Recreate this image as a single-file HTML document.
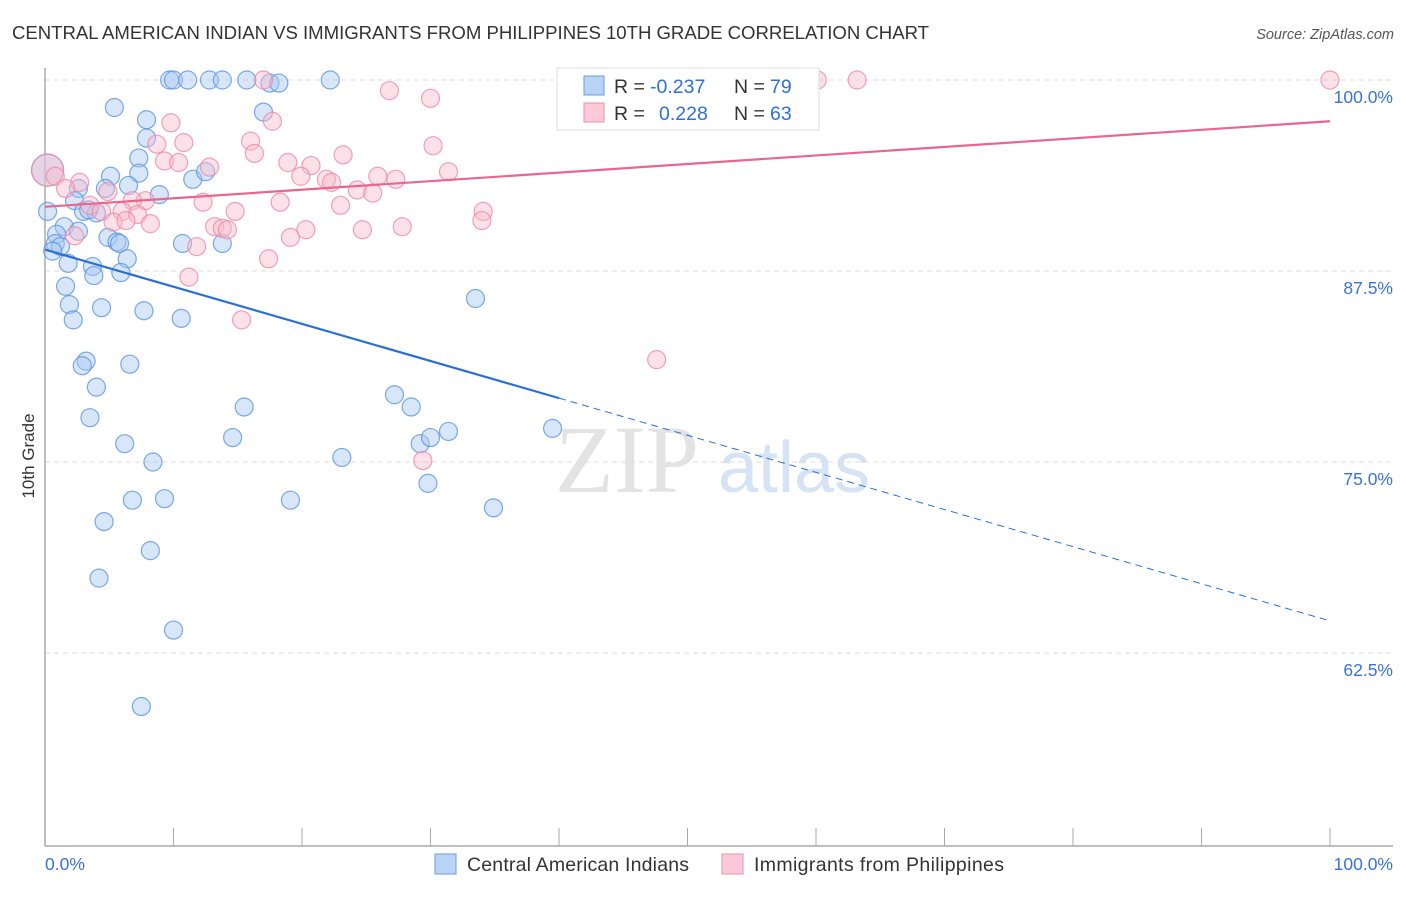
<!DOCTYPE html>
<html><head><meta charset="utf-8"><style>
body{margin:0;background:#fff;width:1406px;height:892px;overflow:hidden;font-family:"Liberation Sans",sans-serif}
</style></head><body>
<svg id="c" width="1406" height="892" xmlns="http://www.w3.org/2000/svg">
<text x="12" y="39" font-size="18.6" fill="#333" textLength="917">CENTRAL AMERICAN INDIAN VS IMMIGRANTS FROM PHILIPPINES 10TH GRADE CORRELATION CHART</text>
<text x="1394" y="39" font-size="14.5" fill="#555" font-style="italic" text-anchor="end">Source: ZipAtlas.com</text>
<text x="34" y="456" font-size="17" fill="#333" transform="rotate(-90 34 456)" text-anchor="middle">10th Grade</text>
<g><text x="555" y="492" font-size="96" fill="#d8d8d8" font-family="Liberation Serif,serif" opacity="0.7">ZIP</text><text x="718" y="492" font-size="72" fill="#c5d8f2" opacity="0.7">atlas</text></g>
<g id="grid"></g><g id="axes"></g><g id="pts"></g><g id="trend"></g>
<g>
<rect x="557" y="68" width="262" height="62" fill="#fff" stroke="#ddd"/>
<rect x="584" y="76" width="20" height="19" fill="#b9d3f5" stroke="#6a9de0"/>
<rect x="584" y="103" width="20" height="19" fill="#fbc9d7" stroke="#ee8fac"/>
<text x="614" y="93" font-size="19.5" fill="#333">R =</text>
<text x="650" y="93" font-size="19.5" fill="#2f6fd6">-0.237</text>
<text x="734" y="93" font-size="19.5" fill="#333">N =</text>
<text x="770" y="93" font-size="19.5" fill="#2f6fd6">79</text>
<text x="614" y="120" font-size="19.5" fill="#333">R =</text>
<text x="659" y="120" font-size="19.5" fill="#2f6fd6">0.228</text>
<text x="734" y="120" font-size="19.5" fill="#333">N =</text>
<text x="770" y="120" font-size="19.5" fill="#2f6fd6">63</text>
</g>
<g>
<rect x="435" y="854" width="21" height="20" fill="#b9d3f5" stroke="#6a9de0"/>
<text x="467" y="871" font-size="19.5" fill="#333" textLength="222">Central American Indians</text>
<rect x="722" y="854" width="21" height="20" fill="#fbc9d7" stroke="#ee8fac"/>
<text x="754" y="871" font-size="19.5" fill="#333" textLength="250">Immigrants from Philippines</text>
</g>
<text x="45" y="870" font-size="17.5" fill="#3a72d4">0.0%</text>
<text x="1393" y="870" font-size="17.5" fill="#3a72d4" text-anchor="end">100.0%</text>
</svg>
<script>
const yTicks=[100,87.5,75,62.5];
const yTickLabels=["100.0%","87.5%","75.0%","62.5%"];
const blueX=[9.7,10.0,11.1,12.8,13.8,15.7,17.5,18.2,22.2,5.4,17.0,7.9,7.9,7.3,5.1,7.3,6.5,2.6,4.7,8.9,11.5,12.5,0.2,0.2,2.3,3.0,4.0,3.4,1.5,2.6,0.9,0.8,1.2,0.6,4.9,5.6,5.8,10.7,13.8,1.8,3.7,6.4,3.8,5.9,1.6,1.9,4.4,7.7,2.2,10.6,33.5,3.2,2.9,6.6,4.0,15.5,27.2,28.5,3.5,14.6,6.2,29.2,30.0,31.4,39.5,8.4,23.1,29.8,6.8,9.3,19.1,34.9,4.6,8.2,4.2,10.0,7.5];
const blueY=[100,100,100,100,100,100,99.8,99.8,100,98.2,97.9,97.4,96.2,94.9,93.7,93.9,93.1,92.9,92.9,92.5,93.5,94.0,94.1,91.4,92.1,91.4,91.3,91.5,90.4,90.1,89.9,89.3,89.1,88.8,89.7,89.4,89.3,89.3,89.3,88.0,87.8,88.3,87.2,87.4,86.5,85.3,85.1,84.9,84.3,84.4,85.7,81.6,81.3,81.4,79.9,78.6,79.4,78.6,77.9,76.6,76.2,76.2,76.6,77.0,77.2,75.0,75.3,73.6,72.5,72.6,72.5,72.0,71.1,69.2,67.4,64.0,59.0];
const pinkX=[17.0,60.1,63.2,100,26.8,30.0,9.8,17.7,10.8,8.7,16.0,30.2,16.3,23.2,9.3,10.4,12.8,18.9,20.7,19.9,21.9,22.3,25.9,27.3,31.4,24.3,25.5,0.2,0.8,2.7,1.6,4.9,7.8,12.3,18.3,23.0,6.8,3.5,4.4,6.0,7.2,14.8,34.1,34.0,5.3,6.3,8.2,13.2,13.8,14.2,24.7,27.8,19.1,20.3,11.8,2.3,17.4,11.2,15.3,47.6,29.4];
const pinkY=[100,100,100,100,99.3,98.8,97.2,97.3,95.9,95.8,96.0,95.7,95.2,95.1,94.7,94.6,94.3,94.6,94.4,93.7,93.5,93.3,93.7,93.5,94.0,92.8,92.6,94.1,93.7,93.3,92.9,92.7,92.1,92.0,92.0,91.8,92.1,91.8,91.4,91.4,91.2,91.4,91.4,90.8,90.7,90.8,90.6,90.4,90.3,90.2,90.2,90.4,89.7,90.2,89.1,89.8,88.3,87.1,84.3,81.7,75.1];
const blueTrend=[88.9,64.6];
const pinkTrend=[91.7,97.3];
const NS="http://www.w3.org/2000/svg";
const X=v=>45+v*12.85, Y=v=>80+(100-v)*15.28;
function mk(t,a,p){const e=document.createElementNS(NS,t);for(const k in a)e.setAttribute(k,a[k]);p.appendChild(e);return e;}
const grid=document.getElementById('grid');
yTicks.forEach((t,i)=>{
 const l=mk('line',{x1:45,x2:1393,y1:Y(t),y2:Y(t),stroke:'#ddd','stroke-dasharray':'5,4'},grid);
 
 
 const tx=mk('text',{x:1393,y:Y(t)+23,'font-size':17.5,fill:'#3a72d4','text-anchor':'end'},grid);
 tx.textContent=yTickLabels[i];
 
 
});
const ax=document.getElementById('axes');
const a1=mk('line',{x1:45,x2:45,y1:68,y2:846,stroke:'#aaa','stroke-width':1.5},ax);


const a2=mk('line',{x1:45,x2:1393,y1:846,y2:846,stroke:'#aaa','stroke-width':1.5},ax);


for(let i=0;i<=10;i++){const t=mk('line',{x1:X(i*10),x2:X(i*10),y1:828,y2:846,stroke:'#aaa'},ax);
 
 }
const pts=document.getElementById('pts');
function dots(xs,ys,fill,stroke,name){xs.forEach((x,i)=>{
 const r=(x<0.5&&ys[i]>93.9&&ys[i]<94.3)?16:9;
 const c=mk('circle',{cx:X(x),cy:Y(ys[i]),r:r,fill:fill,'fill-opacity':0.45,stroke:stroke,'stroke-opacity':0.8,'stroke-width':1.2},pts);
 
 });}
dots(blueX,blueY,'#a9c8f2','#5b93e0','blue-point');
dots(pinkX,pinkY,'#f8bccd','#ec8aa8','pink-point');
const tr=document.getElementById('trend');
const bx=40, by=blueTrend[0]+(blueTrend[1]-blueTrend[0])*bx/100;
const t1=mk('line',{x1:X(0),y1:Y(blueTrend[0]),x2:X(bx),y2:Y(by),stroke:'#2a6fd6','stroke-width':2.2},tr);


const t2=mk('line',{x1:X(bx),y1:Y(by),x2:X(100),y2:Y(blueTrend[1]),stroke:'#2a6fd6','stroke-width':1,'stroke-dasharray':'7,5'},tr);


const t3=mk('line',{x1:X(0),y1:Y(pinkTrend[0]),x2:X(100),y2:Y(pinkTrend[1]),stroke:'#e8668f','stroke-width':2.2},tr);


</script>
</body></html>
